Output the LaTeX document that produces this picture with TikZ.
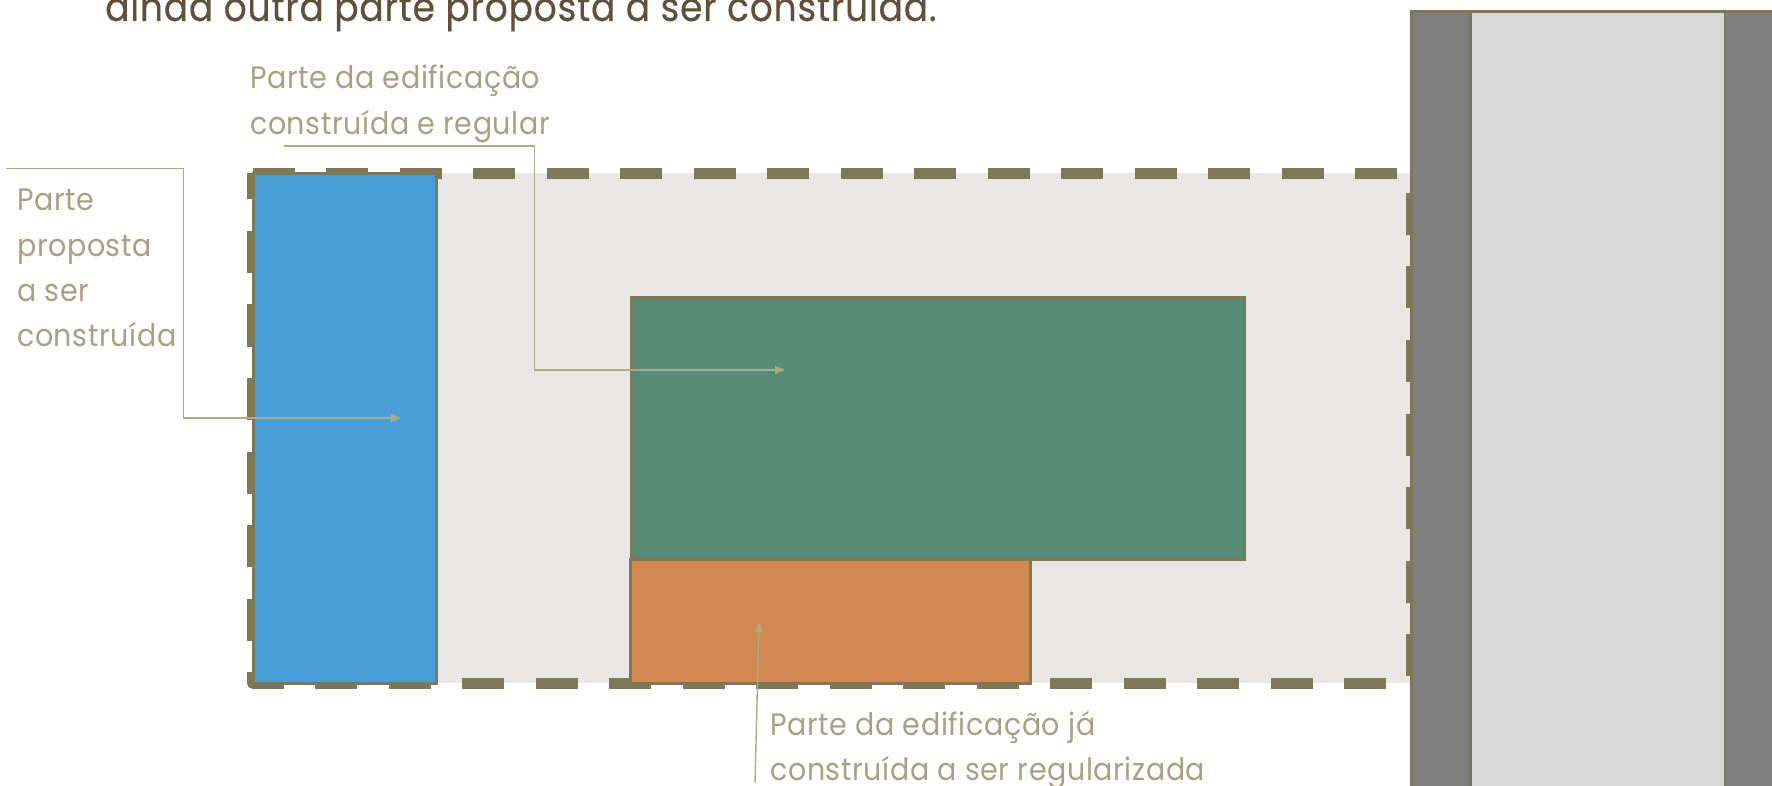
\documentclass[tikz,border=0pt]{standalone}
\usepackage{fontspec}
\usetikzlibrary{arrows.meta}
\newfontfamily\labfont[FakeStretch=0.92,LetterSpace=2]{Poppins}
\newfontfamily\headfont[FakeStretch=0.9,LetterSpace=2,FakeBold=0.3]{Poppins}
\definecolor{dashc}{HTML}{7E7758}
\definecolor{landc}{HTML}{E8E7E3}
\definecolor{bluec}{HTML}{4A9FDB}
\definecolor{greenc}{HTML}{568B77}
\definecolor{orangec}{HTML}{D28851}
\definecolor{roadc}{HTML}{7F7F7F}
\definecolor{lanec}{HTML}{D7D7D7}
\definecolor{leadc}{HTML}{B0A982}
\definecolor{labc}{HTML}{A99F82}
\definecolor{headc}{HTML}{5F4F3B}
\tikzset{
  part/.style={draw=dashc,line width=3pt,line join=miter},
  road/.style={draw=dashc,line width=3pt},
  lotline/.style={draw=dashc,line width=11pt,line join=round},
  leader/.style={draw=leadc,line width=1.4pt,-{Triangle[length=10pt,width=8pt]}},
  lab/.style={text=labc,align=left,inner sep=0pt,anchor=north west,
    font=\labfont\fontsize{31}{45.2}\selectfont},
  head/.style={text=headc,inner sep=0pt,anchor=base west,
    font=\headfont\fontsize{40}{46}\selectfont}
}
\begin{document}
\begin{tikzpicture}[x=1pt,y=-1pt]
\useasboundingbox (0,0) rectangle (1772,786);
\clip (0,0) rectangle (1772,786);
% lot
\fill[landc] (252.5,173) rectangle (1411.5,683);
\draw[lotline,dash pattern=on 42pt off 31.5pt]
  (252.5,173.5) -- (1411.5,173.5);
\draw[lotline,dash pattern=on 42pt off 31.5pt,dash phase=54pt]
  (1411.5,173.5) -- (1411.5,683);
\draw[lotline,dash pattern=on 42pt off 31.5pt,dash phase=48pt]
  (1411.5,683) -- (252.5,683) -- (252.5,173.5);
% road
\draw[road,fill=roadc] (1411.5,11.5) rectangle (1800,820);
\draw[road,line width=2.5pt,fill=lanec] (1470.5,11.5) rectangle (1725,820);
% buildings
\draw[part,fill=bluec] (253,173.5) rectangle (436.5,683);
\draw[part,fill=greenc] (631.5,297.5) rectangle (1244,559.5);
\draw[part,fill=orangec] (630,559.5) rectangle (1030,683);
% anchors of leaders
\coordinate (a1s) at (6,168.5);
\coordinate (a1b) at (183.5,168.5);
\coordinate (a1c) at (183.5,418);
\coordinate (a1e) at (401,418);
\coordinate (a2s) at (284,146);
\coordinate (a2b) at (534.5,146);
\coordinate (a2c) at (534.5,370);
\coordinate (a2e) at (785,370);
\coordinate (a3s) at (755,783);
\coordinate (a3e) at (759,622.5);
\draw[leader] (a1s) -- (a1b) -- (a1c) -- (a1e);
\draw[leader] (a2s) -- (a2b) -- (a2c) -- (a2e);
\draw[leader] (a3s) -- (a3e);
% text
\node[head] (title) at (105,21) {ainda outra parte proposta a ser construída.};
\node[lab] (t1) at (250,65) {Parte da edificação\\construída e regular};
\node[lab] (t2) at (17,189) {Parte\\proposta\\a ser\\construída};
\node[lab] (t3) at (770,711) {Parte da edificação já\\construída a ser regularizada};
\end{tikzpicture}
\end{document}
